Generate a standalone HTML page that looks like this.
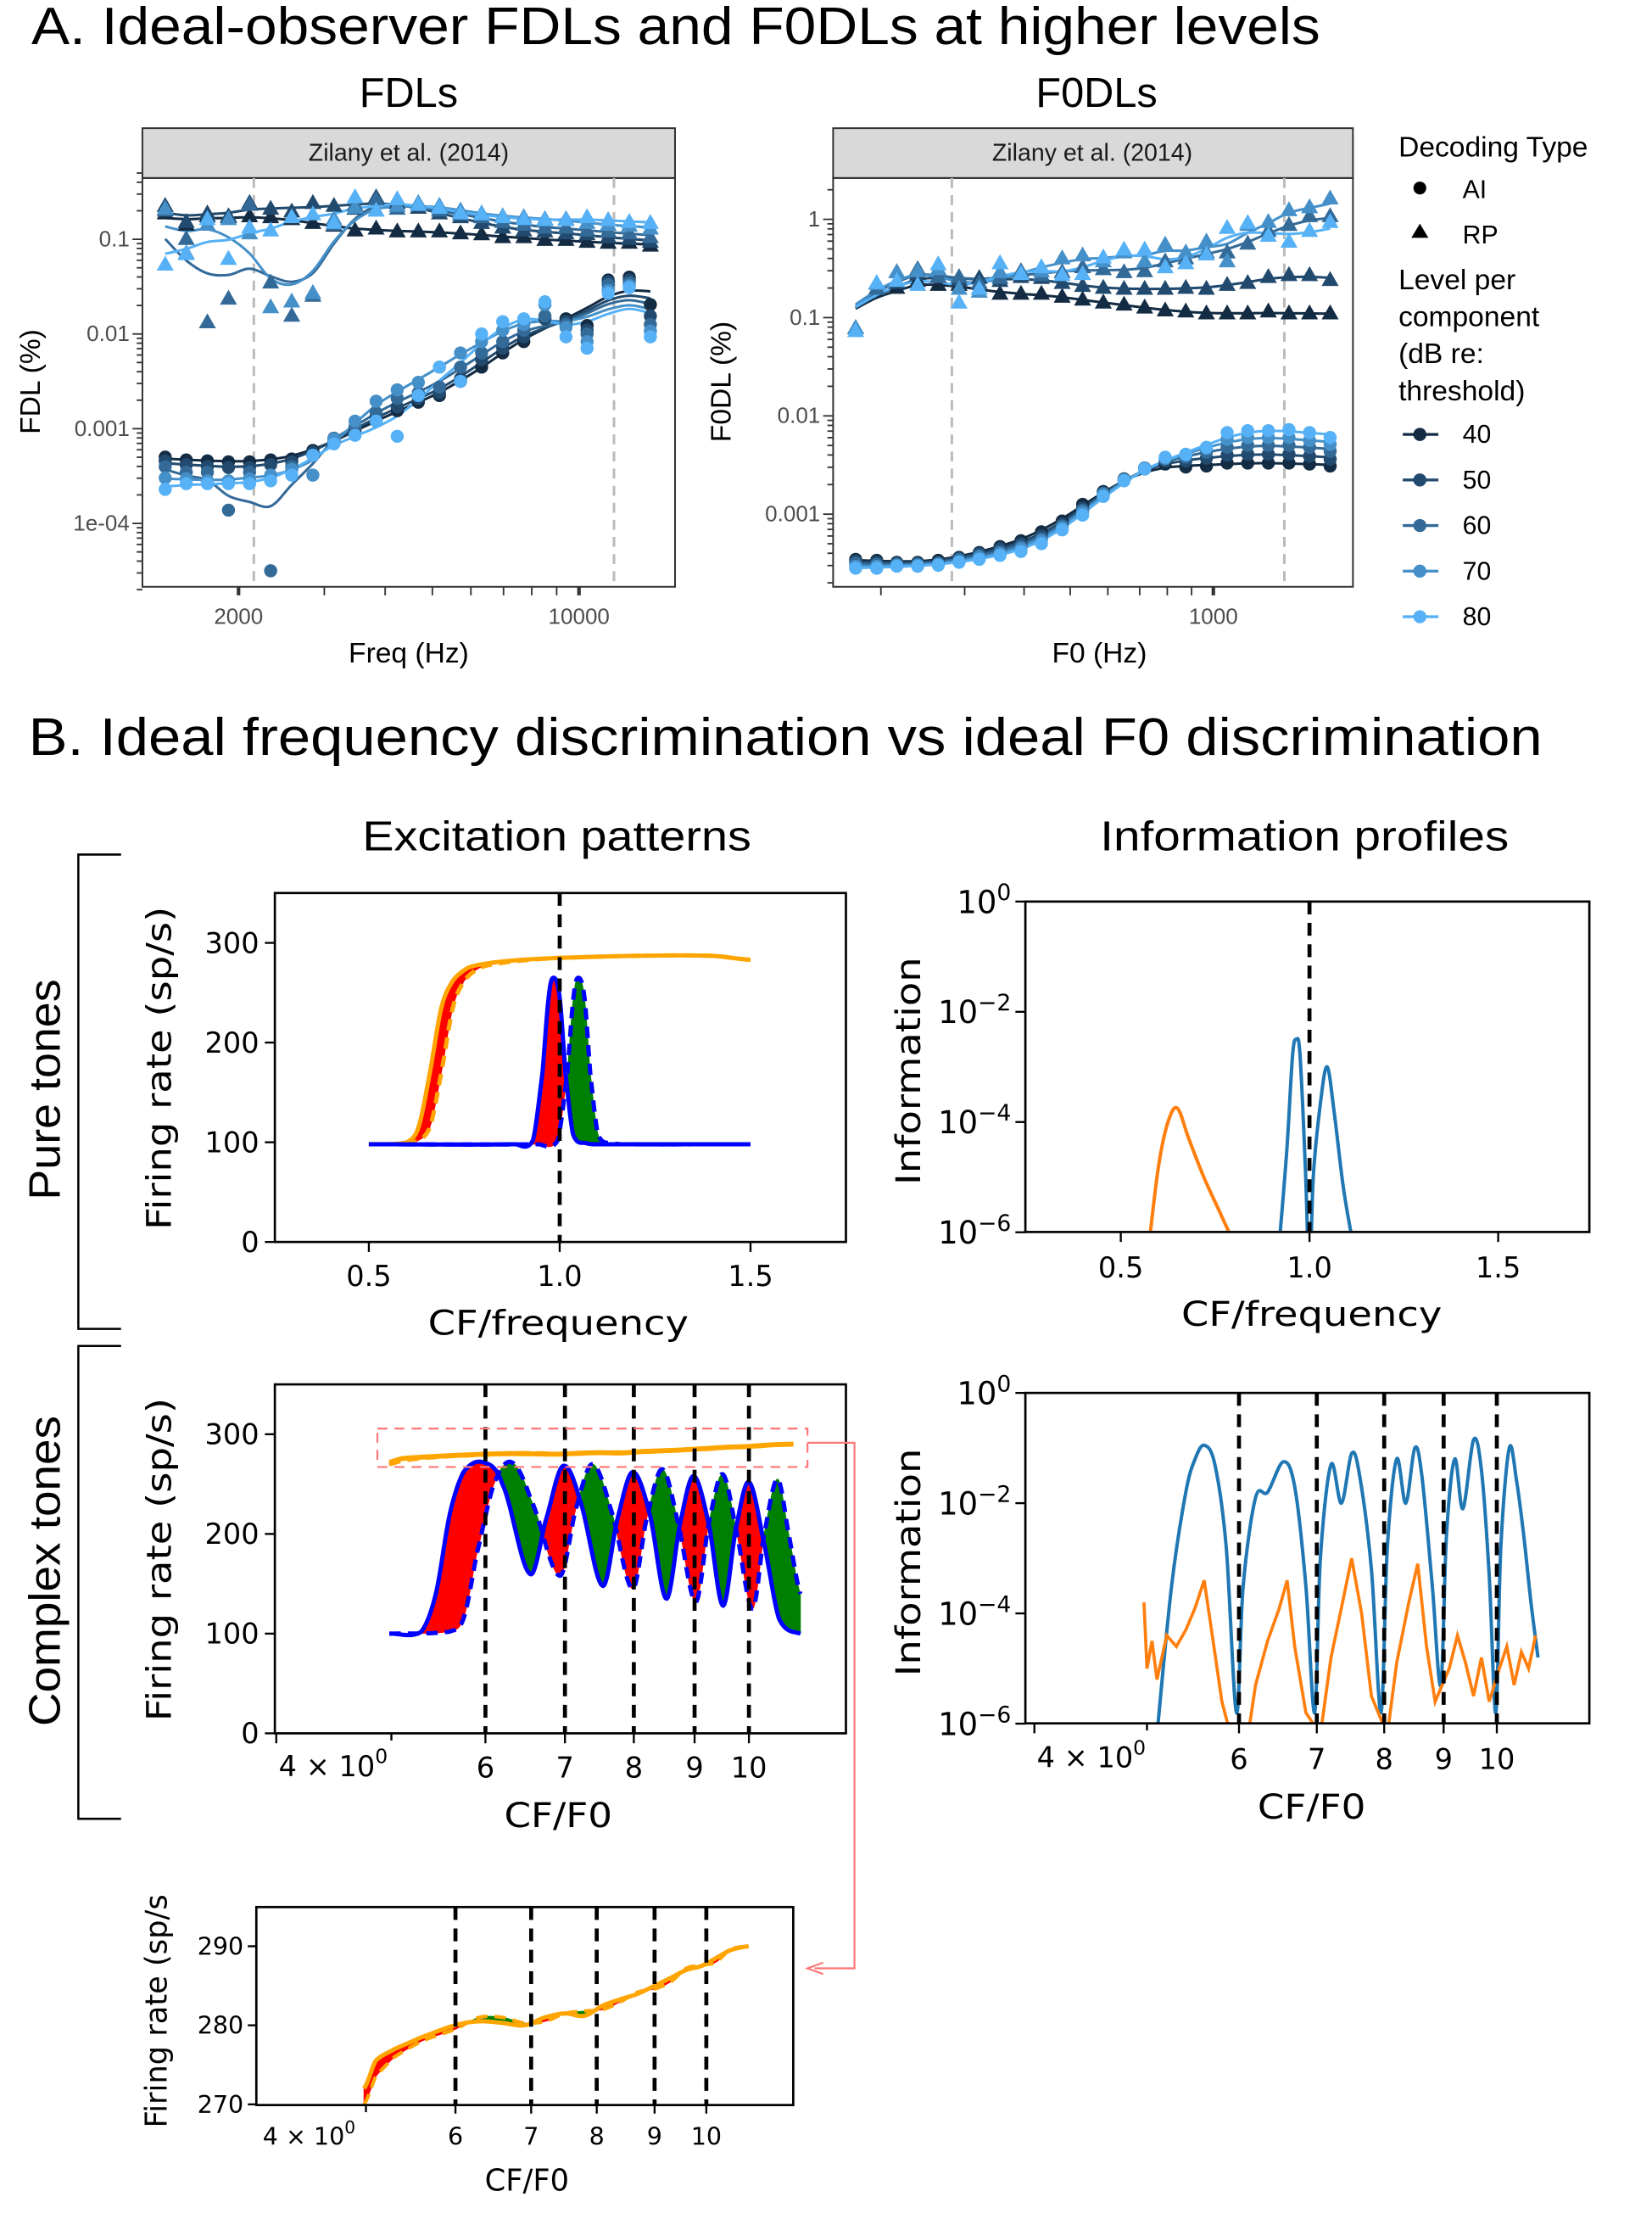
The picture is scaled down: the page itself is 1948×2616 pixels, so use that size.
<!DOCTYPE html>
<html><head><meta charset="utf-8"><style>
html,body{margin:0;padding:0;background:#fff;}
svg{display:block;font-family:"Liberation Sans",sans-serif;}
#gB1,#gB2,#gB3,#gB4,#gB5,.dv{font-family:"DejaVu Sans",sans-serif;}
</style></head><body>
<svg id="fig" xmlns="http://www.w3.org/2000/svg" width="1948" height="2616" viewBox="0 0 1160 1558" preserveAspectRatio="none">
<defs>
<clipPath id="clipA1"><rect x="100" y="125" width="374" height="287"/></clipPath>
<clipPath id="clipA2"><rect x="585" y="125" width="365" height="287"/></clipPath>
<clipPath id="clipB1"><rect x="193" y="627" width="401" height="245"/></clipPath>
<clipPath id="clipB2"><rect x="720" y="633" width="396" height="232"/></clipPath>
<clipPath id="clipB3"><rect x="193" y="972" width="401" height="245"/></clipPath>
<clipPath id="clipB4"><rect x="720" y="978" width="396" height="232"/></clipPath>
<clipPath id="clipB5"><rect x="180" y="1339" width="377" height="139"/></clipPath>
</defs>
<text x="22" y="31" font-size="37" textLength="905" lengthAdjust="spacingAndGlyphs" fill="#000">A. Ideal-observer FDLs and F0DLs at higher levels</text>
<text x="287" y="75" font-size="29" text-anchor="middle">FDLs</text>
<text x="770" y="75" font-size="29" text-anchor="middle">F0DLs</text>
<rect x="100" y="90" width="374" height="35" fill="#d9d9d9" stroke="#333" stroke-width="1.2"/>
<text x="287" y="113" font-size="17" text-anchor="middle" fill="#1a1a1a">Zilany et al. (2014)</text>
<rect x="585" y="90" width="365" height="35" fill="#d9d9d9" stroke="#333" stroke-width="1.2"/>
<text x="767" y="113" font-size="17" text-anchor="middle" fill="#1a1a1a">Zilany et al. (2014)</text>
<rect x="100" y="125" width="374" height="287" fill="none" stroke="#333" stroke-width="1.2"/>
<rect x="585" y="125" width="365" height="287" fill="none" stroke="#333" stroke-width="1.2"/>
<text transform="translate(28,268) rotate(-90)" font-size="20" text-anchor="middle">FDL (%)</text>
<text x="287" y="465" font-size="20" text-anchor="middle">Freq (Hz)</text>
<text transform="translate(513,268) rotate(-90)" font-size="20" text-anchor="middle">F0DL (%)</text>
<text x="772" y="465" font-size="20" text-anchor="middle">F0 (Hz)</text>
<g id="gA1"></g>
<g id="gA2"></g>
<g id="legend">
<text x="982" y="110" font-size="20">Decoding Type</text>
<circle cx="997" cy="132" r="4.5" fill="#000"/>
<text x="1027" y="139" font-size="18">AI</text>
<polygon points="997,157 1003,167 991,167" fill="#000"/>
<text x="1027" y="171" font-size="18">RP</text>
<text font-size="20"><tspan x="982" y="203">Level per</tspan><tspan x="982" y="229">component</tspan><tspan x="982" y="255">(dB re:</tspan><tspan x="982" y="281">threshold)</tspan></text>
</g>

<text x="20" y="530" font-size="37" textLength="1063" lengthAdjust="spacingAndGlyphs">B. Ideal frequency discrimination vs ideal F0 discrimination</text>
<text x="391" y="597" font-size="29" text-anchor="middle" textLength="273" lengthAdjust="spacingAndGlyphs">Excitation patterns</text>
<text x="916" y="597" font-size="29" text-anchor="middle" textLength="287" lengthAdjust="spacingAndGlyphs">Information profiles</text>
<path d="M85,600 H55 V933 H85" fill="none" stroke="#000" stroke-width="1.5"/>
<path d="M85,945 H55 V1277 H85" fill="none" stroke="#000" stroke-width="1.5"/>
<text transform="translate(42,765) rotate(-90)" font-size="31" text-anchor="middle" textLength="155" lengthAdjust="spacingAndGlyphs">Pure tones</text>
<text transform="translate(42,1103) rotate(-90)" font-size="31" text-anchor="middle" textLength="218" lengthAdjust="spacingAndGlyphs">Complex tones</text>

<text class="dv" transform="translate(120,750) rotate(-90)" font-size="24" text-anchor="middle" textLength="227" lengthAdjust="spacingAndGlyphs">Firing rate (sp/s)</text>
<text class="dv" x="392" y="937" font-size="24" text-anchor="middle" textLength="183" lengthAdjust="spacingAndGlyphs">CF/frequency</text>
<text class="dv" transform="translate(646,752) rotate(-90)" font-size="24" text-anchor="middle" textLength="160" lengthAdjust="spacingAndGlyphs">Information</text>
<text class="dv" x="921" y="931" font-size="24" text-anchor="middle" textLength="183" lengthAdjust="spacingAndGlyphs">CF/frequency</text>
<text class="dv" transform="translate(120,1095) rotate(-90)" font-size="24" text-anchor="middle" textLength="227" lengthAdjust="spacingAndGlyphs">Firing rate (sp/s)</text>
<text class="dv" x="392" y="1283" font-size="24" text-anchor="middle" textLength="76" lengthAdjust="spacingAndGlyphs">CF/F0</text>
<text class="dv" transform="translate(646,1097) rotate(-90)" font-size="24" text-anchor="middle" textLength="160" lengthAdjust="spacingAndGlyphs">Information</text>
<text class="dv" x="921" y="1277" font-size="24" text-anchor="middle" textLength="76" lengthAdjust="spacingAndGlyphs">CF/F0</text>
<text class="dv" transform="translate(117,1412) rotate(-90)" font-size="21" text-anchor="middle">Firing rate (sp/s</text>
<text class="dv" x="370" y="1538" font-size="21" text-anchor="middle">CF/F0</text>

<g id="gB1"></g>
<g id="gB2"></g>
<g id="gB3"></g>
<g id="gB4"></g>
<g id="gB5"></g>
<rect x="265" y="1003" width="302" height="27" fill="none" stroke="#f77" stroke-width="1.3" stroke-dasharray="7,5"/>
<path d="M567,1013 H600 V1382 H572" fill="none" stroke="#f77" stroke-width="1.3"/>
<path d="M578,1378 L567,1382 L578,1386" fill="none" stroke="#f77" stroke-width="1.3"/>
</svg>
<script>
// ---------------- Panel A data ----------------
const fdlFreqs = [1414,1562,1726,1907,2107,2328,2572,2842,3140,3469,3833,4235,4679,5170,5712,6311,6973,7704,8512,9405,10391,11481,12685,14015];
const levels = [40,50,60,70,80];
const levelColors = ['#132B43','#214A6E','#336A98','#4590C8','#56B1F7'];
// log10(FDL %)
const fdlAI40 = [-3.30,-3.33,-3.34,-3.35,-3.35,-3.33,-3.32,-3.23,-3.14,-3.02,-2.92,-2.81,-2.72,-2.65,-2.50,-2.35,-2.20,-2.08,-1.84,-1.84,-1.91,-1.43,-1.40,-1.69];
const fdlAI50 = [-3.34,-3.38,-3.40,-3.41,-3.41,-3.38,-3.35,-3.25,-3.13,-3.01,-2.87,-2.77,-2.68,-2.62,-2.47,-2.27,-2.15,-2.03,-1.84,-1.87,-1.96,-1.45,-1.43,-1.81];
const fdlAI60 = [-3.40,-3.46,-3.46,-3.86,-3.46,-4.50,-3.40,-3.28,-3.10,-2.98,-2.83,-2.68,-2.62,-2.56,-2.35,-2.20,-2.08,-1.96,-1.81,-1.90,-2.00,-1.48,-1.46,-1.90];
const fdlAI70 = [-3.52,-3.53,-3.55,-3.55,-3.53,-3.49,-3.43,-3.49,-3.11,-2.92,-2.71,-2.59,-2.51,-2.35,-2.20,-2.08,-1.96,-1.90,-1.69,-1.93,-2.08,-1.54,-1.49,-1.97];
const fdlAI80 = [-3.64,-3.58,-3.58,-3.58,-3.58,-3.55,-3.49,-3.28,-3.16,-3.07,-2.92,-3.08,-2.65,-2.35,-2.50,-2.00,-1.87,-1.84,-1.66,-2.03,-2.15,-1.57,-1.51,-2.03];
const fdlRP40 = [-0.73,-0.85,-0.76,-0.77,-0.76,-0.77,-0.79,-0.83,-0.86,-0.91,-0.89,-0.92,-0.92,-0.92,-0.94,-0.95,-0.98,-0.98,-1.01,-1.01,-1.03,-1.04,-1.04,-1.07];
const fdlRP50 = [-0.65,-0.82,-0.73,-0.76,-0.62,-0.68,-0.71,-0.62,-0.65,-0.68,-0.56,-0.62,-0.67,-0.73,-0.77,-0.83,-0.88,-0.91,-0.92,-0.94,-0.95,-0.98,-1.00,-1.03];
const fdlRP60 = [-0.70,-1.00,-1.88,-1.63,-0.64,-1.46,-1.81,-1.60,-0.85,-0.64,-0.58,-0.68,-0.64,-0.70,-0.74,-0.77,-0.82,-0.85,-0.88,-0.88,-0.91,-0.92,-0.94,-0.98];
const fdlRP70 = [-0.68,-1.15,-0.85,-0.79,-0.94,-1.72,-1.66,-1.57,-0.79,-0.67,-0.70,-0.65,-0.62,-0.65,-0.70,-0.73,-0.76,-0.77,-0.79,-0.79,-0.83,-0.85,-0.86,-0.89];
const fdlRP80 = [-1.27,-1.16,-0.79,-1.21,-0.88,-0.91,-0.77,-0.74,-0.83,-0.56,-0.70,-0.58,-0.64,-0.67,-0.73,-0.74,-0.77,-0.79,-0.80,-0.80,-0.77,-0.80,-0.82,-0.83];

const f0Freqs = [177,196,216,239,264,292,322,356,394,435,481,531,587,649,717,792,875,967,1069,1181,1305,1442,1593,1760];
const f0AI40 = [-3.46,-3.47,-3.49,-3.49,-3.47,-3.44,-3.39,-3.33,-3.27,-3.18,-3.07,-2.90,-2.77,-2.65,-2.54,-2.49,-2.52,-2.51,-2.48,-2.48,-2.48,-2.48,-2.49,-2.51];
const f0AI50 = [-3.48,-3.49,-3.50,-3.50,-3.49,-3.45,-3.40,-3.35,-3.30,-3.22,-3.10,-2.94,-2.78,-2.64,-2.53,-2.46,-2.46,-2.43,-2.40,-2.39,-2.39,-2.39,-2.41,-2.44];
const f0AI60 = [-3.50,-3.51,-3.51,-3.51,-3.50,-3.46,-3.42,-3.38,-3.33,-3.25,-3.12,-2.96,-2.79,-2.65,-2.53,-2.44,-2.42,-2.37,-2.32,-2.30,-2.30,-2.30,-2.32,-2.36];
const f0AI70 = [-3.53,-3.53,-3.52,-3.52,-3.51,-3.48,-3.44,-3.40,-3.35,-3.27,-3.14,-2.98,-2.80,-2.65,-2.53,-2.43,-2.40,-2.33,-2.24,-2.22,-2.22,-2.22,-2.25,-2.29];
const f0AI80 = [-3.55,-3.55,-3.53,-3.53,-3.52,-3.49,-3.46,-3.42,-3.38,-3.30,-3.16,-3.01,-2.82,-2.66,-2.54,-2.42,-2.39,-2.32,-2.17,-2.15,-2.15,-2.14,-2.17,-2.22];
const f0RP40 = [-1.11,-0.71,-0.70,-0.63,-0.67,-0.67,-0.71,-0.76,-0.76,-0.76,-0.79,-0.82,-0.85,-0.87,-0.90,-0.93,-0.94,-0.96,-0.96,-0.96,-0.94,-0.96,-0.96,-0.96];
const f0RP50 = [-1.11,-0.71,-0.65,-0.56,-0.59,-0.62,-0.60,-0.63,-0.59,-0.60,-0.65,-0.68,-0.70,-0.71,-0.71,-0.71,-0.70,-0.71,-0.67,-0.65,-0.59,-0.57,-0.57,-0.62];
const f0RP60 = [-1.11,-0.71,-0.54,-0.51,-0.59,-0.59,-0.65,-0.60,-0.53,-0.57,-0.54,-0.49,-0.51,-0.54,-0.53,-0.43,-0.40,-0.34,-0.34,-0.25,-0.12,-0.06,0.03,0.03];
const f0RP70 = [-1.11,-0.66,-0.54,-0.53,-0.51,-0.71,-0.74,-0.54,-0.55,-0.53,-0.40,-0.37,-0.43,-0.34,-0.43,-0.26,-0.34,-0.23,-0.43,-0.06,-0.03,0.09,0.12,0.21];
const f0RP80 = [-1.14,-0.65,-0.63,-0.67,-0.46,-0.85,-0.71,-0.45,-0.56,-0.49,-0.57,-0.56,-0.39,-0.31,-0.31,-0.49,-0.45,-0.36,-0.09,-0.04,-0.17,-0.23,-0.12,-0.03];
const fdlYTicks = ['0.1','0.01','0.001','1e-04'];
const fdlYTickVals = [-1,-2,-3,-4];
const fdlXTicks = [2000,10000];
const f0YTicks = ['1','0.1','0.01','0.001'];
const f0YTickVals = [0,-1,-2,-3];
const f0XTicks = [1000];

// ---------------- Panel B data ----------------
const pureOrangeSolidX = [0.5,0.6,0.63,0.66,0.69,0.72,0.76,0.82,0.9,1.0,1.2,1.4,1.5];
const pureOrangeSolidY = [98,100,115,170,235,262,275,280,283,285,287,287,283];
const pureOrangeDashX = [0.5,0.62,0.66,0.69,0.72,0.75,0.79,0.85,0.92,1.0,1.2,1.4,1.5];
const pureOrangeDashY = [98,100,115,170,235,262,275,280,283,285,287,287,283];
const pureBlueSolidX = [0.5,0.88,0.93,0.955,0.972,0.985,1.0,1.015,1.035,1.07,1.12,1.5];
const pureBlueSolidY = [98,98,102,170,248,265,245,170,108,99,98,98];
const pureBlueDashX = [0.5,0.94,0.995,1.02,1.037,1.05,1.065,1.08,1.1,1.14,1.2,1.5];
const pureBlueDashY = [98,98,102,170,248,265,245,170,108,99,98,98];

const infoPureOrangeX = [0.575,0.6,0.625,0.65,0.68,0.72,0.76,0.8];
const infoPureOrangeL = [-6.2,-4.8,-4.0,-3.75,-4.3,-5.0,-5.6,-6.2];
const infoPureBlueX = [0.92,0.94,0.955,0.965,0.975,0.99,1.0,1.01,1.03,1.047,1.065,1.09,1.115];
const infoPureBlueL = [-6.2,-4.5,-2.8,-2.5,-2.8,-5.0,-7,-5,-3.6,-3.0,-3.8,-5.2,-6.2];

const cxSolidX = [4.98,5.3,5.45,5.6,5.75,5.97,6.2,6.54,6.75,6.97,7.2,7.53,7.75,7.98,8.25,8.52,8.75,8.98,9.25,9.51,9.75,10.0,10.3,10.6,11.05];
const cxSolidY = [100,102,140,220,262,272,250,160,215,268,235,148,215,262,220,135,210,258,210,128,205,252,190,115,100];
const cxDashX = [4.98,5.6,5.75,5.9,6.1,6.31,6.55,6.93,7.15,7.38,7.65,7.98,8.2,8.45,8.7,9.02,9.25,9.5,9.75,10.07,10.3,10.57,10.8,11.05];
const cxDashY = [100,102,115,180,250,272,235,158,225,270,225,145,215,265,215,132,210,260,205,125,200,255,200,140];
const cxOrangeX = [4.98,5.1,5.3,5.6,6.0,6.3,6.6,6.9,7.2,7.5,7.8,8.1,8.4,8.7,9.0,9.3,9.6,9.9,10.2,10.5,10.9];
const cxOrangeSolidY = [272,275.5,277,278.5,280,280.5,280.3,280,281,281.5,281.2,282.5,283.3,284,285,286,287,287.5,288.5,289.5,290];
const cxOrangeDashY = [270,273.5,276,278,279.5,281,281,280.3,280.5,281.5,281.8,282,283,284.2,284.6,285.5,287.2,287.6,288,289.6,290];
const harmonics = [6,7,8,9,10];

const infoCxBlueX = [5.1,5.25,5.4,5.5,5.6,5.72,5.85,5.97,6.05,6.2,6.35,6.55,6.7,6.85,6.97,7.05,7.2,7.35,7.5,7.62,7.8,7.95,8.05,8.2,8.35,8.5,8.62,8.8,8.95,9.05,9.2,9.35,9.55,9.7,9.85,9.98,10.08,10.25,10.4,10.55,10.7,10.85];
const infoCxBlueL = [-6.2,-3.5,-1.8,-1.2,-0.95,-1.3,-2.8,-5.8,-3.5,-1.9,-1.8,-1.25,-1.7,-3.5,-5.8,-3.0,-1.3,-2.0,-1.1,-1.5,-3.2,-5.8,-2.8,-1.2,-2.0,-1.0,-1.5,-3.5,-5.3,-2.6,-1.2,-2.1,-0.85,-1.4,-3.3,-5.8,-2.8,-1.0,-1.6,-2.6,-3.8,-4.8];
const infoCxOrangeX = [4.97,5.0,5.05,5.1,5.2,5.3,5.4,5.5,5.6,5.7,5.8,5.9,6.1,6.2,6.35,6.5,6.6,6.7,6.85,7.05,7.2,7.35,7.5,7.65,7.8,8.05,8.2,8.4,8.55,8.7,8.85,9.1,9.25,9.4,9.55,9.7,9.85,10.05,10.2,10.35,10.5,10.65,10.8];
const infoCxOrangeL = [-3.8,-5.0,-4.5,-5.2,-4.4,-4.6,-4.3,-3.9,-3.4,-4.5,-5.6,-6.2,-6.3,-5.3,-4.5,-3.9,-3.4,-4.6,-5.8,-6.2,-4.8,-3.9,-3.0,-4.0,-5.5,-6.2,-4.9,-3.8,-3.1,-4.6,-5.6,-5.0,-4.4,-4.9,-5.5,-4.8,-5.6,-5.0,-4.6,-5.3,-4.7,-5.0,-4.4];

// ---------------- helpers ----------------
const NS = 'http://www.w3.org/2000/svg';
function mk(tag, attrs, parent){ const e=document.createElementNS(NS,tag); for(const k in attrs) e.setAttribute(k,attrs[k]); parent.appendChild(e); return e; }
function smooth(pts){
  if(pts.length<2) return '';
  let d='M'+pts[0][0].toFixed(2)+','+pts[0][1].toFixed(2);
  for(let i=0;i<pts.length-1;i++){
    const p0=pts[Math.max(i-1,0)],p1=pts[i],p2=pts[i+1],p3=pts[Math.min(i+2,pts.length-1)];
    const c1=[p1[0]+(p2[0]-p0[0])/6,p1[1]+(p2[1]-p0[1])/6], c2=[p2[0]-(p3[0]-p1[0])/6,p2[1]-(p3[1]-p1[1])/6];
    d+='C'+c1[0].toFixed(2)+','+c1[1].toFixed(2)+' '+c2[0].toFixed(2)+','+c2[1].toFixed(2)+' '+p2[0].toFixed(2)+','+p2[1].toFixed(2);
  }
  return d;
}
function cr(xs,ys,x){
  const n=xs.length;
  if(x<=xs[0]) return ys[0];
  if(x>=xs[n-1]) return ys[n-1];
  let i=0; while(i<n-2 && x>xs[i+1]) i++;
  const t=(x-xs[i])/(xs[i+1]-xs[i]);
  const p0=ys[Math.max(i-1,0)],p1=ys[i],p2=ys[i+1],p3=ys[Math.min(i+2,n-1)];
  return 0.5*(2*p1+(-p0+p2)*t+(2*p0-5*p1+4*p2-p3)*t*t+(-p0+3*p1-3*p2+p3)*t*t*t);
}
function fitLine(vals){
  const out=[]; const w=[1,2,3,2,1];
  for(let i=0;i<vals.length;i++){ let s=0,ws=0; for(let k=-2;k<=2;k++){ const j=i+k; if(j>=0&&j<vals.length){s+=vals[j]*w[k+2];ws+=w[k+2];} } out.push(s/ws); }
  return out;
}
const L10=Math.log10;

// ---------------- Panel A ----------------
function drawA(g, clipId, fx, fy, box, freqs, aiSets, rpSets, yTicks, yTickVals, xTicks, xMinorList, dashes, yMin, yMax){
  dashes.forEach(f=>{
    const l=mk('line',{x1:fx(f),x2:fx(f),y1:box[1],y2:box[3],stroke:'#bbb','stroke-width':1.8,'stroke-dasharray':'7,5'},g);
    
    
  });
  const pg=mk('g',{'clip-path':'url(#'+clipId+')'},g);
  
  
  for(let li=0;li<levels.length;li++){
    [aiSets[li],rpSets[li]].forEach((vals,si)=>{
      const fl=fitLine(vals);
      const p=mk('path',{d:smooth(freqs.map((f,i)=>[fx(f),fy(fl[i])])),fill:'none',stroke:levelColors[li],'stroke-width':1.8},pg);
      
      
    });
  }
  for(let li=0;li<levels.length;li++){
    freqs.forEach((f,i)=>{
      const x=fx(f), y=fy(aiSets[li][i]);
      const c=mk('circle',{cx:x,cy:y,r:4.6,fill:levelColors[li]},pg);
      
      
      const y2=fy(rpSets[li][i]);
      const t=mk('polygon',{points:`${x},${y2-6.5} ${x+6},${y2+4} ${x-6},${y2+4}`,fill:levelColors[li]},pg);
      
      
    });
  }
  for(let d=Math.floor(yMin);d<=Math.ceil(yMax);d++){
    for(let k=1;k<=9;k++){
      const v=d+L10(k); if(v<yMin||v>yMax) continue;
      const y=fy(v);
      const t=mk('line',{x1:box[0],x2:box[0]-(k===1?7:4),y1:y,y2:y,stroke:'#333','stroke-width':1.1},g);
      
      
    }
  }
  yTicks.forEach((lab,i)=>{
    const t=mk('text',{x:box[0]-9,y:fy(yTickVals[i])+5,'font-size':15.5,'text-anchor':'end',fill:'#4d4d4d'},g);
    t.textContent=lab;
    
    
  });
  xMinorList.forEach(f=>{
    const x=fx(f); if(x<box[0]||x>box[2]) return;
    const major=xTicks.includes(f);
    const t=mk('line',{x1:x,x2:x,y1:box[3],y2:box[3]+6,stroke:'#333','stroke-width':major?2.5:1.1},g);
    
    
  });
  xTicks.forEach(f=>{
    const t=mk('text',{x:fx(f),y:box[3]+26,'font-size':15.5,'text-anchor':'middle',fill:'#4d4d4d'},g);
    t.textContent=String(f);
    
    
  });
}
const fx1=f=>167.5+342*L10(f/2000), fy1=L=>168+(-1-L)*66.5;
const fx2=f=>852+334*L10(f/1000), fy2=L=>154-L*69;
drawA(document.getElementById('gA1'),'clipA1',fx1,fy1,[100,125,474,412],fdlFreqs,
  [fdlAI40,fdlAI50,fdlAI60,fdlAI70,fdlAI80],[fdlRP40,fdlRP50,fdlRP60,fdlRP70,fdlRP80],
  fdlYTicks,fdlYTickVals,fdlXTicks,[2000,3000,4000,5000,6000,7000,8000,9000,10000],[2150,11800],-4.7,-0.3);
drawA(document.getElementById('gA2'),'clipA2',fx2,fy2,[585,125,950,412],f0Freqs,
  [f0AI40,f0AI50,f0AI60,f0AI70,f0AI80],[f0RP40,f0RP50,f0RP60,f0RP70,f0RP80],
  f0YTicks,f0YTickVals,f0XTicks,[200,300,400,500,600,700,800,900,1000],[282,1410],-3.7,0.4);
const lg=document.getElementById('legend');
levels.forEach((lv,i)=>{
  const y=305+i*32;
  const l=mk('line',{x1:985,x2:1010,y1:y,y2:y,stroke:levelColors[i],'stroke-width':2},lg);
  
  
  const c=mk('circle',{cx:997,cy:y,r:4.6,fill:levelColors[i]},lg);
  
  
  const t=mk('text',{x:1027,y:y+6,'font-size':18},lg);
  t.textContent=String(lv);
  
  
});

// ---------------- Panel B ----------------
function frame(g,box,name){
  const r=mk('rect',{x:box[0],y:box[1],width:box[2]-box[0],height:box[3]-box[1],fill:'none',stroke:'#000','stroke-width':1.6},g);
  
  
}
function tick(g,x1,y1,x2,y2){
  const t=mk('line',{x1,y1,x2,y2,stroke:'#000','stroke-width':1.4},g);
  
  
}
function label(g,x,y,txt,anchor,size,name){
  const t=mk('text',{x,y,'font-size':size,'text-anchor':anchor},g);
  t.textContent=txt;
  
  
  return t;
}
function powLabel(g,x,y,exp,size){
  const t=mk('text',{x,y,'font-size':size,'text-anchor':'end'},g);
  
  
  const a=mk('tspan',{},t); a.textContent='10';
  const b=mk('tspan',{dy:-9,'font-size':size*0.72},t); b.textContent=exp;
}
function fillBetween(g,sx,sy,x0,x1,solidX,solidY,dashX,dashY,logX,name){
  const N=500, pts=[];
  for(let i=0;i<=N;i++){
    const v= logX ? x0*Math.pow(x1/x0,i/N) : x0+(x1-x0)*i/N;
    pts.push([v,cr(solidX,solidY,v),cr(dashX,dashY,v)]);
  }
  let run=[]; let sign=null;
  const flush=()=>{
    if(run.length<2){run=[];return;}
    const top=run.map(p=>[sx(p[0]),sy(p[1])]), bot=run.map(p=>[sx(p[0]),sy(p[2])]).reverse();
    const col=sign>0?'#ff0000':'#008000';
    const poly=mk('polygon',{points:top.concat(bot).map(p=>p[0].toFixed(2)+','+p[1].toFixed(2)).join(' '),fill:col,stroke:col,'stroke-width':0.5},g);
    
    
  };
  for(const p of pts){
    const s=p[1]>=p[2]?1:-1;
    if(sign===null) sign=s;
    if(s!==sign){ run.push(p); flush(); run=[p]; sign=s; } else run.push(p);
  }
  flush();
}
function curve(g,sx,sy,xs,ys,logX,color,width,dash,name){
  const x0=xs[0],x1=xs[xs.length-1],N=400,pts=[];
  for(let i=0;i<=N;i++){
    const v= logX ? x0*Math.pow(x1/x0,i/N) : x0+(x1-x0)*i/N;
    pts.push([sx(v),sy(cr(xs,ys,v))]);
  }
  const attrs={d:'M'+pts.map(p=>p[0].toFixed(2)+','+p[1].toFixed(2)).join('L'),fill:'none',stroke:color,'stroke-width':width,'stroke-linejoin':'round'};
  if(dash) attrs['stroke-dasharray']=dash;
  const p=mk('path',attrs,g);
  
  
}
function vdash(g,x,y1,y2){
  const l=mk('line',{x1:x,x2:x,y1,y2,stroke:'#000','stroke-width':2.8,'stroke-dasharray':'9,6'},g);
  
  
}

(function(){
  const g=document.getElementById('gB1'), box=[193,627,594,872];
  const sx=v=>259+(v-0.5)*268, sy=r=>872-r*0.7;
  const cg=mk('g',{'clip-path':'url(#clipB1)'},g);
  
  
  fillBetween(cg,sx,sy,0.5,1.5,pureOrangeSolidX,pureOrangeSolidY,pureOrangeDashX,pureOrangeDashY,false,'orange-band');
  fillBetween(cg,sx,sy,0.5,1.5,pureBlueSolidX,pureBlueSolidY,pureBlueDashX,pureBlueDashY,false,'blue-band');
  curve(cg,sx,sy,pureOrangeSolidX,pureOrangeSolidY,false,'#ffa500',3,null,'orange-solid-curve');
  curve(cg,sx,sy,pureOrangeDashX,pureOrangeDashY,false,'#ffa500',3,'8,5','orange-dashed-curve');
  curve(cg,sx,sy,pureBlueSolidX,pureBlueSolidY,false,'#0000ff',3,null,'blue-solid-curve');
  curve(cg,sx,sy,pureBlueDashX,pureBlueDashY,false,'#0000ff',3,'8,5','blue-dashed-curve');
  vdash(g,sx(1.0),box[1],box[3]);
  frame(g,box,'pure-excitation-frame');
  [0.5,1.0,1.5].forEach(v=>{tick(g,sx(v),box[3],sx(v),box[3]+7); label(g,sx(v),box[3]+31,v.toFixed(1),'middle',20,'x-tick-label');});
  [0,100,200,300].forEach(v=>{tick(g,box[0],sy(v),box[0]-7,sy(v)); label(g,box[0]-11,sy(v)+7,String(v),'end',20,'y-tick-label');});
})();

(function(){
  const g=document.getElementById('gB2'), box=[720,633,1116,865];
  const sx=v=>787+(v-0.5)*265, sy=L=>633-L*38.7;
  const cg=mk('g',{'clip-path':'url(#clipB2)'},g);
  
  
  const p1=mk('path',{d:smooth(infoPureOrangeX.map((v,i)=>[sx(v),sy(infoPureOrangeL[i])])),fill:'none',stroke:'#ff7f0e','stroke-width':2.4},cg);
  
  
  const p2=mk('path',{d:smooth(infoPureBlueX.map((v,i)=>[sx(v),sy(infoPureBlueL[i])])),fill:'none',stroke:'#1f77b4','stroke-width':2.4},cg);
  
  
  vdash(g,sx(1.0),box[1],box[3]);
  frame(g,box,'pure-info-frame');
  [0.5,1.0,1.5].forEach(v=>{tick(g,sx(v),box[3],sx(v),box[3]+7); label(g,sx(v),box[3]+32,v.toFixed(1),'middle',20,'x-tick-label');});
  [0,-2,-4,-6].forEach(e=>{tick(g,box[0],sy(e),box[0]-7,sy(e)); powLabel(g,box[0]-10,sy(e)+8,e===0?'0':'\u2212'+(-e),22);});
})();

(function(){
  const g=document.getElementById('gB3'), box=[193,972,594,1217];
  const sx=v=>194+834*L10(v/4), sy=r=>1217-r*0.7;
  const cg=mk('g',{'clip-path':'url(#clipB3)'},g);
  
  
  fillBetween(cg,sx,sy,4.98,11.05,cxSolidX,cxSolidY,cxDashX,cxDashY,true,'blue-band');
  fillBetween(cg,sx,sy,4.98,10.9,cxOrangeX,cxOrangeSolidY,cxOrangeX,cxOrangeDashY,true,'orange-band');
  curve(cg,sx,sy,cxOrangeX,cxOrangeSolidY,true,'#ffa500',3.5,null,'orange-solid-curve');
  curve(cg,sx,sy,cxOrangeX,cxOrangeDashY,true,'#ffa500',3,'8,5','orange-dashed-curve');
  curve(cg,sx,sy,cxSolidX,cxSolidY,true,'#0000ff',3,null,'blue-solid-curve');
  curve(cg,sx,sy,cxDashX,cxDashY,true,'#0000ff',3,'8,5','blue-dashed-curve');
  harmonics.forEach(h=>vdash(g,sx(h),box[1],box[3]));
  frame(g,box,'complex-excitation-frame');
  tick(g,sx(4),box[3],sx(4),box[3]+7); tick(g,sx(5),box[3],sx(5),box[3]+5);
  const t4=label(g,sx(4)+40,box[3]+30,'4 \u00d7 10','middle',20,'x-tick-label');
  const sup=mk('tspan',{dy:-9,'font-size':14},t4); sup.textContent='0';
  harmonics.forEach(h=>{tick(g,sx(h),box[3],sx(h),box[3]+7); label(g,sx(h),box[3]+31,String(h),'middle',20,'x-tick-label');});
  [0,100,200,300].forEach(v=>{tick(g,box[0],sy(v),box[0]-7,sy(v)); label(g,box[0]-11,sy(v)+7,String(v),'end',20,'y-tick-label');});
})();

(function(){
  const g=document.getElementById('gB4'), box=[720,978,1116,1210];
  const sx=v=>870+816*L10(v/6), sy=L=>978-L*38.7;
  const cg=mk('g',{'clip-path':'url(#clipB4)'},g);
  
  
  const p1=mk('path',{d:smooth(infoCxBlueX.map((v,i)=>[sx(v),sy(infoCxBlueL[i])])),fill:'none',stroke:'#1f77b4','stroke-width':2.4},cg);
  
  
  const p2=mk('path',{d:'M'+infoCxOrangeX.map((v,i)=>sx(v).toFixed(2)+','+sy(infoCxOrangeL[i]).toFixed(2)).join('L'),fill:'none',stroke:'#ff7f0e','stroke-width':2.2},cg);
  
  
  harmonics.forEach(h=>vdash(g,sx(h),box[1],box[3]));
  frame(g,box,'complex-info-frame');
  tick(g,sx(4),box[3],sx(4),box[3]+7); tick(g,sx(5),box[3],sx(5),box[3]+5);
  const t4=label(g,sx(4)+40,box[3]+31,'4 \u00d7 10','middle',20,'x-tick-label');
  const sup=mk('tspan',{dy:-9,'font-size':14},t4); sup.textContent='0';
  harmonics.forEach(h=>{tick(g,sx(h),box[3],sx(h),box[3]+7); label(g,sx(h),box[3]+32,String(h),'middle',20,'x-tick-label');});
  [0,-2,-4,-6].forEach(e=>{tick(g,box[0],sy(e),box[0]-7,sy(e)); powLabel(g,box[0]-10,sy(e)+8,e===0?'0':'\u2212'+(-e),22);});
})();

(function(){
  const g=document.getElementById('gB5'), box=[180,1339,557,1478];
  const sx=v=>180+794*L10(v/4), sy=r=>1422-(r-280)*5.55;
  const cg=mk('g',{'clip-path':'url(#clipB5)'},g);
  
  
  fillBetween(cg,sx,sy,4.98,10.9,cxOrangeX,cxOrangeSolidY,cxOrangeX,cxOrangeDashY,true,'orange-band');
  curve(cg,sx,sy,cxOrangeX,cxOrangeSolidY,true,'#ffa500',3,null,'orange-solid-curve');
  curve(cg,sx,sy,cxOrangeX,cxOrangeDashY,true,'#ffa500',2.5,'8,5','orange-dashed-curve');
  harmonics.forEach(h=>vdash(g,sx(h),box[1],box[3]));
  frame(g,box,'inset-frame');
  tick(g,sx(5),box[3],sx(5),box[3]+5);
  const t4=label(g,sx(4)+37,box[3]+28,'4 \u00d7 10','middle',17,'x-tick-label');
  const sup=mk('tspan',{dy:-8,'font-size':12},t4); sup.textContent='0';
  harmonics.forEach(h=>{tick(g,sx(h),box[3],sx(h),box[3]+6); label(g,sx(h),box[3]+28,String(h),'middle',17,'x-tick-label');});
  [270,280,290].forEach(v=>{tick(g,box[0],sy(v),box[0]-6,sy(v)); label(g,box[0]-9,sy(v)+6,String(v),'end',17,'y-tick-label');});
})();
</script>
</body></html>
